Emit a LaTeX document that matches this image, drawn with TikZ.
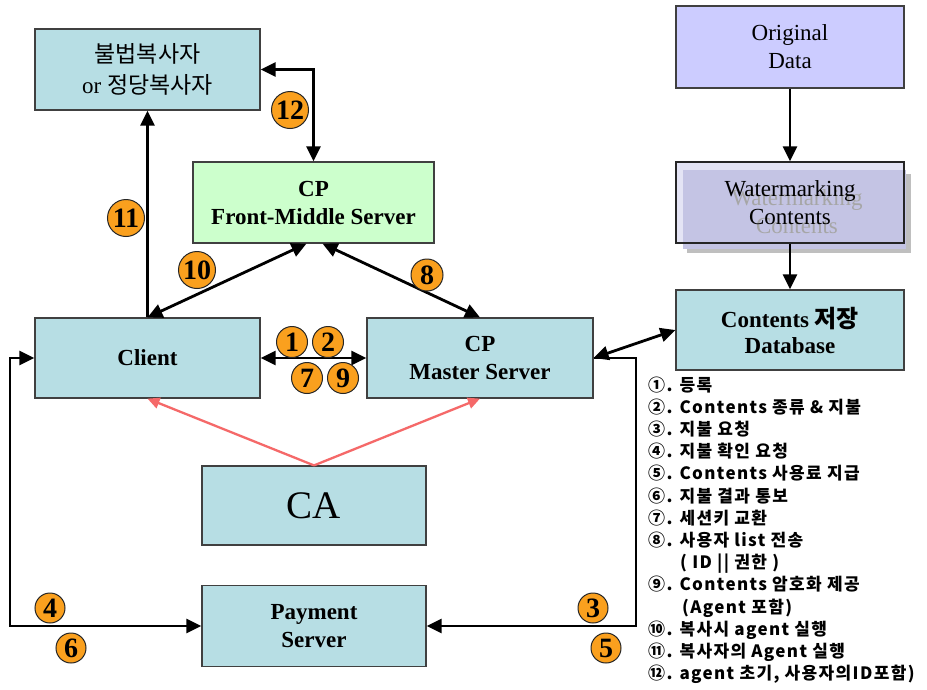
\documentclass[tikz,border=0pt]{standalone}
\usepackage{fontspec}
\setmainfont{Liberation Serif}
\newfontfamily\kr{Noto Sans CJK KR}
\newfontfamily\legfont{Noto Sans CJK KR}[LetterSpace=8]
\usetikzlibrary{arrows.meta}
\definecolor{boxblue}{RGB}{183,222,228}
\definecolor{fmgreen}{RGB}{204,255,204}
\definecolor{lav}{RGB}{204,204,255}
\definecolor{lavlight}{RGB}{228,228,245}
\definecolor{lavmid}{RGB}{196,196,228}
\definecolor{numorange}{RGB}{250,160,30}
\definecolor{cared}{RGB}{245,105,105}
\begin{document}
\begin{tikzpicture}[x=1pt,y=-1pt,
  box/.style={draw=black!75, line width=1.2pt, fill=boxblue, align=center, inner sep=0pt, font=\fontsize{23}{28}\selectfont},
  bbox/.style={box, font=\bfseries\fontsize{23}{28}\selectfont},
  conn/.style={line width=2.8pt, -{Triangle[length=15pt,width=14pt]}},
  dconn/.style={line width=2.8pt, {Triangle[length=15pt,width=14pt]}-{Triangle[length=15pt,width=14pt]}},
  redconn/.style={line width=2.3pt, draw=cared, -{Triangle[length=12pt,width=11pt]}, color=cared},
  num/.style={circle, draw=black!85, line width=1pt, fill=numorange, inner sep=0pt, minimum size=#1, font=\bfseries\fontsize{28}{28}\selectfont},
  leg/.style={anchor=base west, inner sep=0pt, font=\legfont\bfseries\fontsize{17}{20}\selectfont}]
\useasboundingbox (0,0) rectangle (927,689);
\fill[white] (0,0) rectangle (927,689);

% boxes
\node[box, minimum width=225pt, minimum height=81pt, font=\fontsize{23}{31}\selectfont] (ill) at (147.5,69.5) {{\kr 불법복사자}\\or {\kr 정당복사자}};
\node[box, fill=lav, minimum width=228pt, minimum height=82pt] (orig) at (790,47) {Original\\Data};
\node[bbox, fill=fmgreen, minimum width=241pt, minimum height=81pt] (fm) at (313.5,202.5) {CP\\Front-Middle Server};

% watermarking box with its shadowed inner panel and ghost text
\fill[black!25] (687,174) rectangle (911,253);
\fill[lavlight] (676,162) rectangle (904,243);
\fill[lavmid] (683,170) rectangle (906,249);
\node[text=black!35, align=center, font=\fontsize{23}{28}\selectfont] (wmghost) at (797,212) {Watermarking\\Contents};
\node[draw=black!85, line width=1.2pt, minimum width=228pt, minimum height=81pt, inner sep=0pt, align=center, font=\fontsize{23}{28}\selectfont] (wm) at (790,202.5) {Watermarking\\Contents};

\node[bbox, minimum width=228pt, minimum height=80pt, font=\bfseries\fontsize{23}{26}\selectfont] (db) at (790,330) {Contents {\kr\fontsize{24}{26}\selectfont 저장}\\Database};
\node[bbox, minimum width=225pt, minimum height=80pt] (client) at (147.5,358) {Client};
\node[bbox, minimum width=226pt, minimum height=80pt] (master) at (480,358) {CP\\Master Server};
\node[box, minimum width=224pt, minimum height=79pt, font=\fontsize{39}{40}\selectfont] (ca) at (314,505.5) {CA};
\node[bbox, minimum width=224pt, minimum height=81pt] (pay) at (314,626) {Payment\\Server};

% helper coordinates
\coordinate (lc) at (10,0);
\coordinate (rc) at (636,0);

% connectors
\draw[dconn] (ill.east) -| (fm.north);
\draw[conn] (client.north) -- (ill.south);
\draw[dconn] (client.north) -- ([xshift=-7pt]fm.south);
\draw[dconn] ([xshift=9pt]fm.south) -- (master.north);
\draw[dconn] (client.east) -- (master.west);
\draw[dconn] (master.east) -- (db.west);
\draw[conn] (master.east) -| (rc |- pay.east) -- (pay.east);
\draw[dconn] (client.west) -| (lc |- pay.west) -- (pay.west);
\draw[conn] (orig.south) -- (wm.north);
\draw[conn] (wm.south) -- (db.north);
\draw[redconn] (ca.north) -- (client.south);
\draw[redconn] (ca.north) -- (master.south);

% numbered markers
\node[num=37pt] (n12) at (290,110) {12};
\node[num=37pt] (n11) at (126,218) {11};
\node[num=37pt] (n10) at (197,270) {10};
\node[num=32pt] (n8) at (427,275) {8};
\node[num=31pt] (n1) at (292,342) {1};
\node[num=31pt] (n2) at (328,342) {2};
\node[num=31pt] (n7) at (307,378) {7};
\node[num=31pt] (n9) at (343,378) {9};
\node[num=30pt] (n4) at (50,608) {4};
\node[num=30pt] (n6) at (71,648) {6};
\node[num=30pt] (n3) at (593,608) {3};
\node[num=30pt] (n5) at (606,648) {5};

% legend
\node[leg] (l1) at (648,391.0) {①. 등록};
\node[leg] (l2) at (648,413.2) {②. Contents 종류 \& 지불};
\node[leg] (l3) at (648,435.4) {③. 지불 요청};
\node[leg] (l4) at (648,457.6) {④. 지불 확인 요청};
\node[leg] (l5) at (648,479.8) {⑤. Contents 사용료 지급};
\node[leg] (l6) at (648,502.0) {⑥. 지불 결과 통보};
\node[leg] (l7) at (648,524.2) {⑦. 세션키 교환};
\node[leg] (l8) at (648,546.4) {⑧. 사용자 list 전송};
\node[leg] (l8b) at (680,568.6) {( ID || 권한 )};
\node[leg] (l9) at (648,590.8) {⑨. Contents 암호화 제공};
\node[leg] (l9b) at (682,613.0) {(Agent 포함)};
\node[leg] (l10) at (648,635.2) {⑩. 복사시 agent 실행};
\node[leg] (l11) at (648,657.4) {⑪. 복사자의 Agent 실행};
\node[leg] (l12) at (648,679.6) {⑫. agent 초기, 사용자의ID포함)};
\end{tikzpicture}
\end{document}
